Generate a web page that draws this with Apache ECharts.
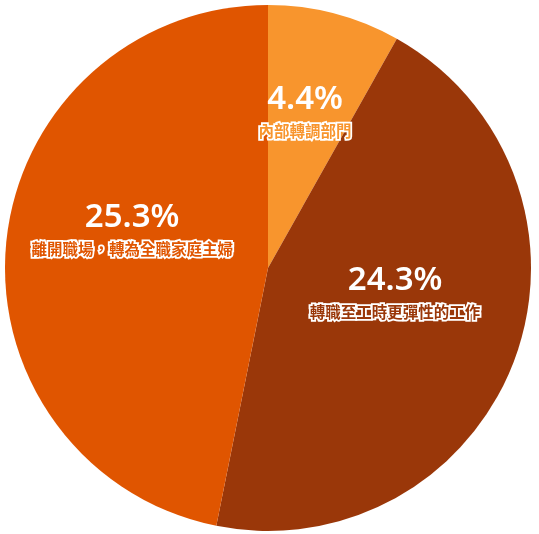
<!DOCTYPE html>
<html>
<head>
<meta charset="utf-8">
<script src="https://cdn.jsdelivr.net/npm/echarts@6/dist/echarts.min.js"></script>
<style>
html,body{margin:0;padding:0;background:#fff;}
#chart{width:539px;height:534px;}
</style>
</head>
<body>
<div id="chart"></div>
<script>
const categories = ['內部轉調部門', '轉職至工時更彈性的工作', '離開職場，轉為全職家庭主婦'];
const values = [4.4, 24.3, 25.3];
const colors = ['#F8952D', '#9A3709', '#E05500'];
const labelOffsets = [[3, -28], [1, -24], [-2, -27]];

const chart = echarts.init(document.getElementById('chart'));
const data = categories.map((name, i) => ({
  name: name,
  value: values[i],
  itemStyle: { color: colors[i] },
  label: {
    offset: labelOffsets[i],
    rich: {
      n: {
        color: colors[i],
        fontSize: 15.5,
        fontWeight: 'bold',
        fontFamily: 'Noto Sans CJK TC',
        textBorderColor: '#ffffff',
        textBorderWidth: 3.5,
        lineHeight: 20
      }
    }
  }
}));

chart.setOption({
  animation: false,
  series: [{
    type: 'pie',
    center: [268, 268],
    radius: [0, 263],
    startAngle: 90,
    clockwise: true,
    data: data,
    itemStyle: { borderWidth: 0 },
    label: {
      show: true,
      position: 'inside',
      formatter: '{p|{c}%}\n{n|{b}}',
      rich: {
        p: {
          color: '#ffffff',
          fontSize: 33,
          fontWeight: 600,
          fontFamily: 'Noto Sans',
          lineHeight: 42
        }
      }
    },
    labelLine: { show: false },
    emphasis: { disabled: true }
  }]
});
</script>
</body>
</html>
